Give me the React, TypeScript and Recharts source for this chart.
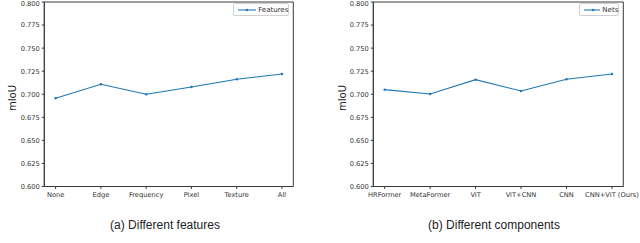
import React from 'react';
import { LineChart, Line, XAxis, YAxis, ReferenceArea } from 'recharts';

const featureCategories = ['None', 'Edge', 'Frequency', 'Pixel', 'Texture', 'All'];
const featureValues = [0.6956, 0.7108, 0.7, 0.7079, 0.7162, 0.722];
const netCategories = ['HRFormer', 'MetaFormer', 'ViT', 'ViT+CNN', 'CNN', 'CNN+ViT (Ours)'];
const netValues = [0.705, 0.7003, 0.7158, 0.7036, 0.7162, 0.722];
const yTicks = [0.6, 0.625, 0.65, 0.675, 0.7, 0.725, 0.75, 0.775, 0.8];

const BLUE = '#1f77b4';
const AXIS = '#3a3a3a';
const TEXT = '#333333';
const FONT = 'DejaVu Sans';

type PanelProps = {
  categories: string[];
  values: number[];
  seriesName: string;
  left: number;
  plotLeft: number;
  plotRight: number;
  caption: string;
  captionCenter: number;
  ylabelX: number;
  legendWidth: number;
};

const Panel = ({ categories, values, seriesName, left, plotLeft, plotRight, caption, captionCenter, ylabelX, legendWidth }: PanelProps) => {
  const data = categories.map((c, i) => ({ x: i, name: c, v: values[i] }));
  const n = categories.length;
  const legend = () => (
    <div
      style={{
        position: 'absolute',
        top: 3,
        right: 4,
        width: legendWidth,
        height: 13,
        border: '1px solid #d0d0d0',
        borderRadius: 2,
        background: 'white',
        display: 'flex',
        alignItems: 'center',
        fontFamily: FONT,
        fontSize: 7,
        color: TEXT,
        boxSizing: 'border-box',
      }}
    >
      <svg width={22} height={10} style={{ marginLeft: 3 }}>
        <line x1={1} y1={5} x2={19} y2={5} stroke={BLUE} strokeWidth={1.1} />
        <circle cx={10} cy={5} r={1.2} fill={BLUE} />
      </svg>
      <span style={{ marginLeft: 2 }}>{seriesName}</span>
    </div>
  );
  return (
    <div style={{ position: 'absolute', left, top: 0, width: 320, height: 243 }}>
      <LineChart
        width={320}
        height={243}
        data={data}
        margin={{ top: 2, left: 0, right: 320 - plotRight, bottom: 36.5 }}
      >
        <XAxis
          dataKey="x"
          type="number"
          domain={[-0.25, n - 0.75]}
          ticks={categories.map((_, i) => i)}
          tickFormatter={(i: number) => categories[i]}
          interval={0}
          allowDataOverflow
          stroke={AXIS}
          tickSize={2.5}
          tickLine={{ stroke: AXIS }}
          height={20}
          tick={{ fontFamily: FONT, fontSize: 6.7, fill: TEXT, stroke: 'none', dy: 1 }}
        />
        <YAxis
          type="number"
          domain={[0.6, 0.8]}
          ticks={yTicks}
          tickFormatter={(v: number) => v.toFixed(3)}
          allowDataOverflow
          stroke={AXIS}
          tickSize={2.5}
          width={plotLeft}
          tick={{ fontFamily: FONT, fontSize: 6.7, fill: TEXT, stroke: 'none' }}
        />
        <ReferenceArea
          x1={-0.25}
          x2={n - 0.75}
          y1={0.6}
          y2={0.8}
          fill="none"
          stroke={AXIS}
          strokeWidth={1}
          fillOpacity={0}
          ifOverflow="visible"
        />
        <Line
          dataKey="v"
          name={seriesName}
          stroke={BLUE}
          strokeWidth={1.1}
          dot={{ r: 1.2, fill: BLUE, stroke: BLUE, strokeWidth: 0 }}
          activeDot={false}
          isAnimationActive={false}
        />
      </LineChart>
      <div style={{ position: 'absolute', left: plotLeft, top: 0, width: plotRight - plotLeft, height: 186 }}>
        {legend()}
      </div>
      <div
        style={{
          position: 'absolute',
          left: ylabelX - 30,
          top: 98 - 7,
          width: 60,
          height: 14,
          lineHeight: '14px',
          textAlign: 'center',
          transform: 'rotate(-90deg)',
          fontFamily: FONT,
          fontSize: 10,
          color: '#222',
        }}
      >
        mIoU
      </div>
      <div
        style={{
          position: 'absolute',
          left: captionCenter - 100,
          width: 200,
          top: 218,
          lineHeight: '14px',
          textAlign: 'center',
          fontFamily: 'Liberation Sans',
          fontSize: 12,
          color: '#222',
        }}
      >
        {caption}
      </div>
    </div>
  );
};

export default function App() {
  return (
    <div style={{ position: 'absolute', left: 0, top: 0, width: 640, height: 243, background: 'white', overflow: 'hidden' }}>
      <Panel
        categories={featureCategories}
        values={featureValues}
        seriesName="Features"
        left={0}
        plotLeft={44.3}
        plotRight={293.3}
        caption="(a) Different features"
        captionCenter={165}
        ylabelX={13}
        legendWidth={56}
      />
      <Panel
        categories={netCategories}
        values={netValues}
        seriesName="Nets"
        left={320}
        plotLeft={53.3}
        plotRight={303.3}
        caption="(b) Different components"
        captionCenter={174}
        ylabelX={22.7}
        legendWidth={40}
      />
    </div>
  );
}
